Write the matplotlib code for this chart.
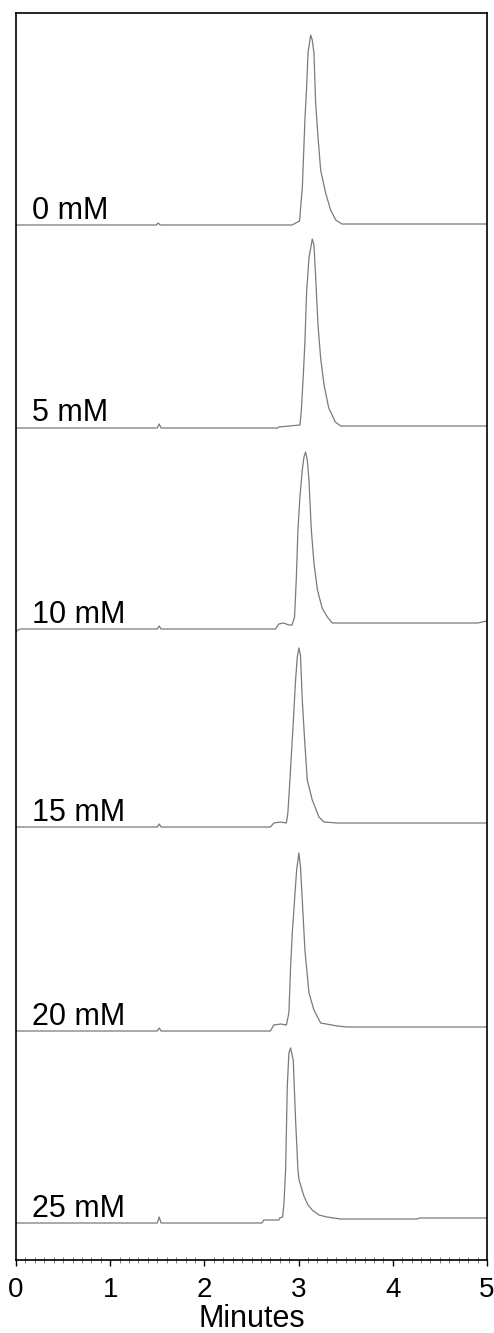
import numpy as np
import matplotlib
matplotlib.use("Agg")
import matplotlib.pyplot as plt
from matplotlib.ticker import MultipleLocator

plt.rcParams["font.family"] = ["Liberation Sans", "DejaVu Sans"]

# ---------------------------------------------------------------------------
# chromatograms: time (min) vs detector signal (a.u.)
# ---------------------------------------------------------------------------
LABELS = ["0 mM", "5 mM", "10 mM", "15 mM", "20 mM", "25 mM"]

T_0 = [0.0, 1.49, 1.51, 1.53, 2.93, 3.01, 3.04, 3.067, 3.085, 3.10, 3.128,
       3.145, 3.163, 3.181, 3.206, 3.234, 3.287, 3.34, 3.394, 3.46, 5.0]
S_0 = [0, 0, 2, 0, 0, 4, 38, 105, 138, 172, 190,
       185, 172, 122, 88, 55, 32, 15, 5, 1, 1]

T_5 = [0.0, 1.50, 1.52, 1.54, 2.78, 2.79, 3.014, 3.028, 3.05, 3.067, 3.085,
       3.11, 3.145, 3.163, 3.18, 3.206, 3.234, 3.27, 3.32, 3.39, 3.447, 5.0]
S_5 = [-1, -1, 3, -1, -1, 0, 2, 15, 52, 85, 135,
       169, 188, 182, 152, 102, 69, 42, 19, 5, 1, 1]

T_10 = [0.0, 0.02, 0.05, 1.50, 1.52, 1.54, 2.755, 2.79, 2.84, 2.897, 2.93,
        2.957, 2.975, 2.993, 3.014, 3.039, 3.057, 3.074, 3.092, 3.11, 3.135,
        3.163, 3.20, 3.25, 3.305, 3.358, 3.394, 4.9, 5.0]
S_10 = [-3, -1, 0, 0, 3, 0, 0, 5, 6, 4, 4,
        12, 49, 99, 132, 159, 172, 177, 169, 149, 99,
        66, 39, 21, 12, 6, 6, 6, 8]

T_15 = [0.0, 1.50, 1.52, 1.54, 2.70, 2.737, 2.81, 2.87, 2.886, 2.908, 2.922,
        2.943, 2.968, 2.986, 3.003, 3.02, 3.039, 3.064, 3.092, 3.145, 3.216,
        3.27, 3.41, 5.0]
S_15 = [0, 0, 3, 0, 0, 4, 5, 4, 14, 47, 70,
        104, 147, 170, 179, 172, 127, 87, 47, 27, 10,
        5, 4, 4]

T_20 = [0.0, 1.50, 1.52, 1.54, 2.70, 2.737, 2.81, 2.87, 2.897, 2.915, 2.933,
        2.957, 2.979, 3.003, 3.02, 3.039, 3.067, 3.11, 3.163, 3.234, 3.41,
        3.52, 5.0]
S_20 = [0, 0, 3, 0, 0, 6, 7, 6, 18, 64, 98,
        131, 161, 178, 164, 131, 81, 38, 21, 8, 5,
        4, 4]

T_25 = [0.0, 1.50, 1.52, 1.54, 2.61, 2.63, 2.79, 2.80, 2.83, 2.845, 2.862,
        2.88, 2.897, 2.915, 2.943, 2.968, 2.993, 3.005, 3.056, 3.10, 3.145,
        3.216, 3.30, 3.447, 4.26, 4.28, 5.0]
S_25 = [0, 0, 6, 0, 0, 3, 3, 5, 6, 20, 53,
        137, 170, 175, 163, 103, 53, 43, 27, 18, 13,
        8, 6, 4, 4, 5, 5]

TIMES = [T_0, T_5, T_10, T_15, T_20, T_25]
SIGNALS = [S_0, S_5, S_10, S_15, S_20, S_25]

# vertical stacking of the traces (layout)
OFFSETS = [1035, 833, 631, 433, 229, 37]

fig = plt.figure(figsize=(4.94, 13.33), dpi=100)
ax = fig.add_axes([16 / 494, 73 / 1333, 471 / 494, 1247.3 / 1333])

for t, s, off, lab in zip(TIMES, SIGNALS, OFFSETS, LABELS):
    ax.plot(t, np.asarray(s) + off, color="#7a7a7a", lw=0.9)
    ax.text(0.17, off + 6, lab, fontsize=22, ha="left", va="baseline")

ax.set_xlim(0, 5)
ax.set_ylim(0, 1247.3)
ax.set_yticks([])
ax.xaxis.set_major_locator(MultipleLocator(1))
ax.xaxis.set_minor_locator(MultipleLocator(0.1))
ax.tick_params(axis="x", which="major", direction="out", length=4, width=1,
               labelsize=20, pad=8)
ax.tick_params(axis="x", which="minor", direction="inout", length=4, width=0.6,
               color="#666666")
for sp in ax.spines.values():
    sp.set_linewidth(1.2)
ax.set_xlabel("Minutes", fontsize=22, labelpad=1)

fig.savefig("out.png", dpi=100)
